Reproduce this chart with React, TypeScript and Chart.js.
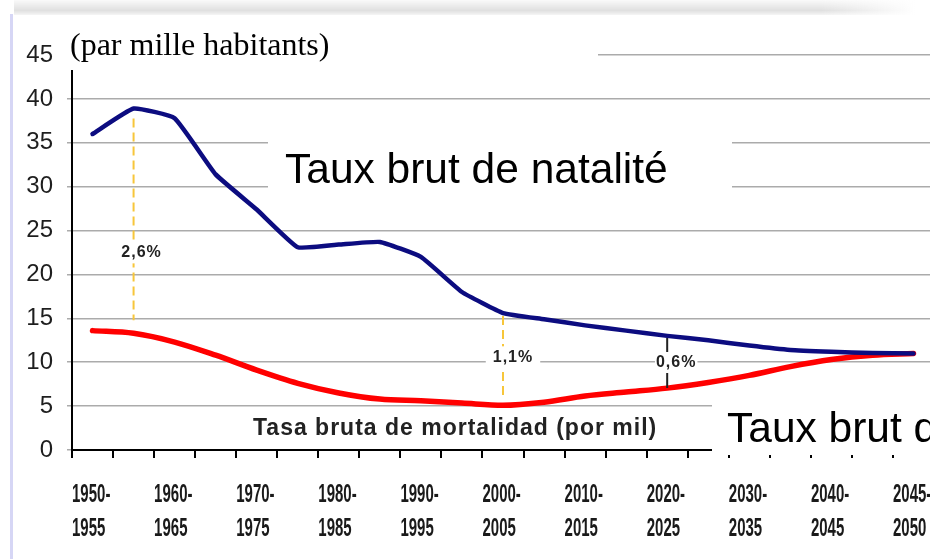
import React, { useEffect, useRef } from 'react';
import { Chart, registerables } from 'chart.js';

Chart.register(...registerables);

// Five-year periods (category slots of the x axis)
const periods = [
  '1950-1955', '1955-1960', '1960-1965', '1965-1970', '1970-1975', '1975-1980',
  '1980-1985', '1985-1990', '1990-1995', '1995-2000', '2000-2005', '2005-2010',
  '2010-2015', '2015-2020', '2020-2025', '2025-2030', '2030-2035', '2035-2040',
  '2040-2045', '2045-2050', '2050-2055',
];

// Tick labels as printed on the chart
const tickLabels = [
  '1950-1955', '', '1960-1965', '', '1970-1975', '', '1980-1985', '', '1990-1995', '',
  '2000-2005', '', '2010-2015', '', '2020-2025', '', '2030-2035', '', '2040-2045', '',
  '2045-2050',
];

// Taux brut de natalité (par mille habitants)
const natalite = [
  36.0, 38.9, 37.8, 31.4, 27.4, 23.1, 23.4, 23.7, 22.0, 18.0, 15.6,
  14.9, 14.2, 13.6, 13.0, 12.5, 11.9, 11.4, 11.2, 11.05, 11.0,
];

// Tasa bruta de mortalidad (por mil)
const mortalite = [
  13.6, 13.3, 12.3, 10.8, 9.1, 7.6, 6.5, 5.8, 5.6, 5.35, 5.1,
  5.45, 6.15, 6.6, 7.05, 7.7, 8.5, 9.5, 10.3, 10.8, 11.0,
];

// Y axis range
const yMin = 0;
const yMax = 45;
const yStep = 5;

// Growth-gap annotations
const gapIndex = [1, 10, 14];
const gapLabels = ['2,6%', '1,1%', '0,6%'];

const SANS = "'Liberation Sans', Arial, sans-serif";

const overlay = {
  id: 'overlay',
  afterDatasetsDraw(chart: any) {
    const ctx = chart.ctx as CanvasRenderingContext2D;
    const xs = chart.scales.x;
    const ys = chart.scales.y;
    const styles = [
      { dashed: true, dx: 8, t: 0.64, topPad: 10, botPad: 13 },
      { dashed: true, dx: 10, t: 0.48, topPad: 3, botPad: 7 },
      { dashed: false, dx: 9, t: 0.52, topPad: 2, botPad: 0 },
    ];
    ctx.save();
    gapIndex.forEach((idx, n) => {
      const st = styles[n];
      const px = xs.getPixelForValue(idx);
      const yTop = ys.getPixelForValue(natalite[idx]);
      const yBot = ys.getPixelForValue(mortalite[idx]);
      const ly = yTop + (yBot - yTop) * st.t;
      ctx.lineCap = 'butt';
      if (st.dashed) {
        ctx.strokeStyle = '#f7c63a';
        ctx.lineWidth = 2;
        ctx.setLineDash([9, 5]);
        ctx.beginPath();
        ctx.moveTo(px, yTop + st.topPad);
        ctx.lineTo(px, yBot - st.botPad);
        ctx.stroke();
        ctx.setLineDash([]);
      } else {
        ctx.strokeStyle = '#222';
        ctx.lineWidth = 2;
        ctx.beginPath();
        ctx.moveTo(px, yTop + st.topPad);
        ctx.lineTo(px, ly - 11);
        ctx.moveTo(px, ly + 10);
        ctx.lineTo(px, yBot);
        ctx.stroke();
      }
      ctx.font = `bold 16px ${SANS}`;
      (ctx as any).letterSpacing = '1px';
      const w = ctx.measureText(gapLabels[n]).width;
      const cx = px + st.dx;
      ctx.fillStyle = '#fff';
      if (st.dashed) ctx.fillRect(cx - w / 2 - 7, ly - 11, w + 14, 22);
      else ctx.fillRect(cx - w / 2 - 1, ly - 7, w + 2, 14);
      ctx.fillStyle = '#222';
      ctx.textAlign = 'center';
      ctx.textBaseline = 'middle';
      ctx.fillText(gapLabels[n], cx, ly);
      (ctx as any).letterSpacing = '0px';
    });
    ctx.restore();
  },
  afterDraw(chart: any) {
    const ctx = chart.ctx as CanvasRenderingContext2D;
    const xs = chart.scales.x;
    ctx.save();
    // x tick labels (condensed, two lines), placed on the category scale
    ctx.font = `bold 25px ${SANS}`;
    ctx.fillStyle = '#1a1a1a';
    ctx.textAlign = 'left';
    ctx.textBaseline = 'alphabetic';
    tickLabels.forEach((s, i) => {
      if (!s) return;
      const [a, b] = s.split('-');
      const px = xs.getPixelForValue(i) - 20.5;
      ctx.save();
      ctx.translate(px, 0);
      ctx.scale(0.6, 1);
      ctx.fillText(a + '-', 0, 502);
      ctx.fillText(b, 0, 536);
      ctx.restore();
    });
    // slide shadow band at the top
    const g = ctx.createLinearGradient(0, 0, 0, 15);
    g.addColorStop(0, 'rgba(0,0,0,0.02)');
    g.addColorStop(0.7, 'rgba(0,0,0,0.12)');
    g.addColorStop(1, 'rgba(0,0,0,0.04)');
    ctx.fillStyle = g;
    ctx.fillRect(14, 0, 900, 15);
    const gh = ctx.createLinearGradient(820, 0, 915, 0);
    gh.addColorStop(0, 'rgba(255,255,255,0)');
    gh.addColorStop(1, 'rgba(255,255,255,1)');
    ctx.fillStyle = gh;
    ctx.fillRect(820, 0, 125, 15);
    // slide border
    ctx.fillStyle = '#d6d6f5';
    ctx.fillRect(10, 14, 3, 545);
    // white text boxes
    ctx.fillStyle = '#fff';
    ctx.fillRect(55, 15, 543, 55);
    ctx.fillRect(268, 120, 464, 85);
    ctx.fillRect(712, 392, 240, 63);
    // texts
    ctx.textAlign = 'left';
    ctx.textBaseline = 'alphabetic';
    ctx.fillStyle = '#000';
    ctx.font = "32px 'Liberation Serif', 'Times New Roman', serif";
    ctx.fillText('(par mille habitants)', 70, 55);
    ctx.font = `42.5px ${SANS}`;
    ctx.fillText('Taux brut de natalité', 285, 183);
    ctx.fillText('Taux brut de mortalité', 727, 442);
    ctx.fillStyle = '#222';
    ctx.font = `bold 23px ${SANS}`;
    (ctx as any).letterSpacing = '1px';
    ctx.fillText('Tasa bruta de mortalidad (por mil)', 253, 435);
    (ctx as any).letterSpacing = '0px';
    ctx.restore();
  },
};

export default function App() {
  const ref = useRef<HTMLCanvasElement>(null);
  useEffect(() => {
    const chart = new Chart(ref.current as HTMLCanvasElement, {
      type: 'line',
      data: {
        labels: periods,
        datasets: [
          {
            label: 'Taux brut de natalité',
            data: natalite,
            borderColor: '#0c0c80',
            borderWidth: 4.5,
            pointRadius: 0,
            tension: 0.12,
            borderJoinStyle: 'round',
            borderCapStyle: 'round',
            fill: false,
          },
          {
            label: 'Tasa bruta de mortalidad (por mil)',
            data: mortalite,
            borderColor: '#ff0000',
            borderWidth: 5.5,
            pointRadius: 0,
            cubicInterpolationMode: 'monotone',
            borderCapStyle: 'round',
            fill: false,
          },
        ],
      } as any,
      options: {
        responsive: false,
        animation: false,
        devicePixelRatio: 1,
        layout: { padding: { top: 55, right: 6, left: 0, bottom: 0 } },
        plugins: {
          legend: { display: false },
          tooltip: { enabled: false },
          title: { display: false },
        },
        scales: {
          x: {
            offset: true,
            grid: {
              offset: true,
              drawOnChartArea: false,
              drawTicks: true,
              tickLength: 8,
              color: '#000',
              lineWidth: 2,
            },
            border: { display: true, color: '#000', width: 2 },
            ticks: {
              display: false,
              autoSkip: false,
              maxRotation: 0,
              minRotation: 0,
            },
            afterFit: (s: any) => {
              s.height = 109;
              s.paddingLeft = 0;
              s.paddingRight = 0;
            },
          },
          y: {
            min: yMin,
            max: yMax,
            ticks: {
              stepSize: yStep,
              padding: 14,
              color: '#1e1e1e',
              font: { family: SANS, size: 24 },
            },
            grid: { color: '#ababab', lineWidth: 1.5, tickLength: 5, drawTicks: true },
            border: { display: true, color: '#000', width: 2 },
            afterFit: (s: any) => {
              s.width = 72;
            },
          },
        },
      } as any,
      plugins: [overlay],
    });
    return () => chart.destroy();
  }, []);

  return (
    <div
      style={{
        position: 'fixed',
        left: 0,
        top: 0,
        width: 930,
        height: 559,
        overflow: 'hidden',
        background: '#fff',
      }}
    >
      <canvas ref={ref} width={940} height={559} style={{ display: 'block' }} />
    </div>
  );
}
